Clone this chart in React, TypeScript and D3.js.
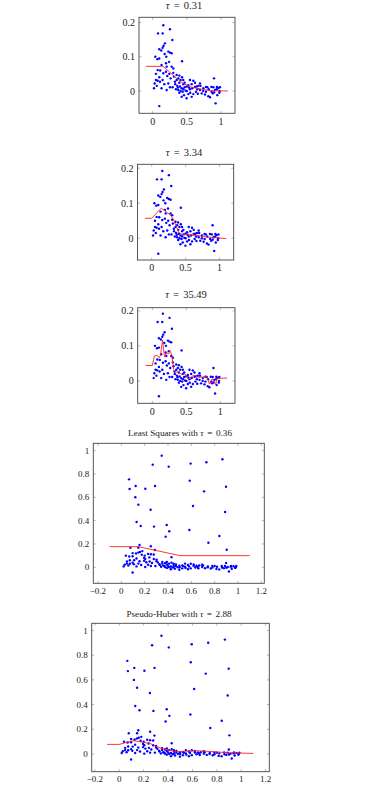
import * as d3 from 'd3';

type Pt = [number, number];

// noisy samples (same set in the three top plots)
const samplePoints: Pt[] = [
  [0.156, 0.192], [0.078, 0.168], [0.146, 0.168], [0.253, 0.18], [0.288, 0.149],
  [0.18, 0.139], [0.16, 0.132], [0.097, 0.122], [0.126, 0.118], [0.146, 0.126],
  [0.229, 0.115], [0.253, 0.112], [0.278, 0.11], [0.039, 0.1], [0.068, 0.093],
  [0.097, 0.095], [0.175, 0.108], [0.43, 0.087], [0.195, 0.081], [0.13, 0.076],
  [0.048, 0.05], [0.073, 0.061], [0.097, 0.04], [0.073, 0.03], [0.029, 0.022],
  [0.02, 0.008], [0.107, 0.027], [0.146, 0.032], [0.156, 0.052], [0.195, 0.056],
  [0.214, 0.044], [0.243, 0.05], [0.263, 0.037], [0.302, 0.053], [0.312, 0.042],
  [0.229, 0.022], [0.253, 0.011], [0.205, 0.003], [0.097, -0.044], [0.326, 0.027],
  [0.351, 0.032], [0.375, 0.037], [0.39, 0.024], [0.409, 0.032], [0.36, 0.015],
  [0.341, 0.005], [0.39, -0.005], [0.424, 0.008], [0.448, 0.02], [0.468, 0.011],
  [0.483, 0.001], [0.424, -0.017], [0.522, -0.009], [0.497, -0.021], [0.546, 0.005],
  [0.571, 0.02], [0.595, 0.03], [0.62, 0.024], [0.644, 0.013], [0.668, 0.015],
  [0.634, -0.002], [0.693, 0.003], [0.595, -0.009], [0.571, -0.017], [0.717, -0.007],
  [0.742, 0.008], [0.781, -0.002], [0.8, 0.011], [0.839, -0.018], [0.878, -0.007],
  [0.888, 0.011], [0.912, 0.003], [0.898, 0.037], [0.937, 0.005], [0.961, 0.009],
  [0.985, 0.011], [0.922, -0.036], [0.946, -0.012], [0.976, -0.005], [0.693, 0.022],
  [0.522, 0.017], [0.278, 0.071], [0.302, 0.066], [0.205, 0.071], [0.351, 0.047],
  [0.448, 0.032], [0.468, 0.024], [0.048, 0.032], [0.13, 0.008], [0.292, 0.011],
  [0.546, 0.032], [0.654, 0.005], [0.766, -0.01], [0.863, -0.002], [0.815, -0.015],
  [0.497, 0.013], [0.4, 0.013], [0.375, 0.003], [0.439, -0.002], [0.458, -0.012],
  [0.33, 0.02], [0.37, 0.01], [0.41, 0.0], [0.45, 0.005], [0.5, 0.0],
  [0.53, 0.01], [0.58, 0.008], [0.62, 0.012], [0.66, -0.008], [0.7, 0.015],
  [0.74, 0.0], [0.78, 0.012], [0.82, 0.005], [0.86, 0.012], [0.9, -0.004],
  [0.94, 0.012], [0.98, 0.0], [0.43, 0.04], [0.39, 0.045], [0.55, -0.005],
  [0.24, 0.085], [0.2, 0.1], [0.11, 0.06], [0.06, 0.015], [0.17, 0.02],
];

// extra outliers used in the two bottom plots
const outlierPoints: Pt[] = [
  [0.346, 0.957], [0.269, 0.88], [0.406, 0.863], [0.594, 0.889], [0.729, 0.9],
  [0.866, 0.926], [0.066, 0.754], [0.586, 0.743], [0.123, 0.697], [0.071, 0.671],
  [0.206, 0.674], [0.289, 0.697], [0.709, 0.651], [0.897, 0.691], [0.12, 0.6],
  [0.146, 0.537], [0.614, 0.526], [0.251, 0.494], [0.889, 0.474], [0.131, 0.389],
  [0.166, 0.354], [0.28, 0.349], [0.389, 0.363], [0.411, 0.309], [0.583, 0.32],
  [0.38, 0.263], [0.84, 0.269], [0.746, 0.211], [0.903, 0.151],
];

// fitted curves
const fitTau031: Pt[] = [
  [-0.1, 0.072], [0.15, 0.072], [0.25, 0.055], [0.35, 0.037], [0.45, 0.022],
  [0.55, 0.012], [0.65, 0.008], [0.75, 0.004], [0.85, 0.001], [1.1, 0.0],
];
const fitTau334: Pt[] = [
  [-0.1, 0.057], [0.0, 0.057], [0.14, 0.086], [0.27, 0.067], [0.32, 0.055],
  [0.4, 0.016], [0.45, 0.011], [0.67, 0.008], [0.84, 0.003], [1.1, -0.001],
];
const fitTau3549: Pt[] = [
  [-0.1, 0.044], [0.0, 0.044], [0.03, 0.071], [0.07, 0.073], [0.1, 0.066],
  [0.12, 0.073], [0.15, 0.116], [0.18, 0.068], [0.21, 0.081], [0.24, 0.077],
  [0.26, 0.087], [0.29, 0.07], [0.31, 0.033], [0.34, 0.025], [0.38, 0.026],
  [0.43, 0.018], [0.48, 0.02], [0.53, 0.004], [0.57, 0.011], [0.61, 0.016],
  [0.68, 0.01], [0.73, 0.011], [0.8, 0.013], [0.84, -0.009], [0.88, 0.006],
  [0.93, -0.011], [0.95, 0.007], [1.1, 0.008],
];
const fitLeastSquares: Pt[] = [
  [-0.1, 0.177], [0.146, 0.177], [0.503, 0.1], [1.1, 0.1],
];
const fitPseudoHuber: Pt[] = [
  [-0.1, 0.078], [0.0, 0.078], [0.115, 0.108], [0.25, 0.086], [0.35, 0.043],
  [0.47, 0.019], [0.63, 0.027], [0.77, 0.019], [0.88, 0.011], [1.1, 0.005],
];

const smallXTicks = [0, 0.5, 1];
const smallYTicks = [0, 0.1, 0.2];
const bigXTicks = [-0.2, 0, 0.2, 0.4, 0.6, 0.8, 1, 1.2];
const bigYTicks = [0, 0.2, 0.4, 0.6, 0.8, 1];

const FONT = '"Liberation Serif", "DejaVu Serif", serif';
const fmt = d3.format('~g');

interface PanelProps {
  box: [number, number, number, number];
  xDomain: [number, number];
  yDomain: [number, number];
  label: string;
  tau: string;
  titleX: number;
  titleY: number;
  titleSize: number;
  tickSize: number;
  points: Pt[];
  fit: Pt[];
  xTicks: number[];
  yTicks: number[];
}

function Panel(p: PanelProps) {
  const [x0, y0, x1, y1] = p.box;
  const x = d3.scaleLinear().domain(p.xDomain).range([x0, x1]);
  const y = d3.scaleLinear().domain(p.yDomain).range([y1, y0]);
  const line = d3.line<Pt>().x(d => x(d[0])).y(d => y(d[1]));
  const tl = 2.5;
  const gap = p.titleSize * 0.14;

  return (
    <g>
      <text x={p.titleX} y={p.titleY} textAnchor="middle" fontFamily={FONT} fontSize={p.titleSize} fill="#222">
        {p.label}
        <tspan fontStyle="italic">τ</tspan>
        <tspan dx={gap}> = </tspan>
        <tspan dx={gap}>{p.tau}</tspan>
      </text>

      {p.points.map((d, i) => (
        <circle key={i} cx={x(d[0])} cy={y(d[1])} r={1.2} fill="#0000ff" />
      ))}

      <path d={line(p.fit) ?? ''} fill="none" stroke="#ff2020" strokeWidth={0.9} />

      {p.xTicks.map(t => (
        <g key={'x' + t}>
          <line x1={x(t)} x2={x(t)} y1={y1} y2={y1 - tl} stroke="#888" strokeWidth={0.6} />
          <line x1={x(t)} x2={x(t)} y1={y0} y2={y0 + tl} stroke="#888" strokeWidth={0.6} />
          <text x={x(t)} y={y1 + p.tickSize + 1.3} textAnchor="middle" fontFamily={FONT} fontSize={p.tickSize} fill="#222">
            {fmt(t)}
          </text>
        </g>
      ))}
      {p.yTicks.map(t => (
        <g key={'y' + t}>
          <line x1={x0} x2={x0 + tl} y1={y(t)} y2={y(t)} stroke="#888" strokeWidth={0.6} />
          <line x1={x1} x2={x1 - tl} y1={y(t)} y2={y(t)} stroke="#888" strokeWidth={0.6} />
          <text x={x0 - 4} y={y(t)} dy="0.35em" textAnchor="end" fontFamily={FONT} fontSize={p.tickSize} fill="#222">
            {fmt(t)}
          </text>
        </g>
      ))}

      <rect x={x0} y={y0} width={x1 - x0} height={y1 - y0} fill="none" stroke="#444" strokeWidth={0.9} />
    </g>
  );
}

export default function App() {
  const allPoints = [...samplePoints, ...outlierPoints];
  return (
    <svg width={365} height={786} style={{ position: 'absolute', left: 0, top: 0, background: '#fff' }}>
      <Panel box={[139, 17.3, 235, 113.3]} xDomain={[-0.2, 1.205]} yDomain={[-0.065, 0.215]}
        label="" tau="0.31" titleX={184} titleY={8.5} titleSize={10.5} tickSize={10}
        points={samplePoints} fit={fitTau031} xTicks={smallXTicks} yTicks={smallYTicks} />
      <Panel box={[137.5, 164.3, 233.7, 260]} xDomain={[-0.21, 1.21]} yDomain={[-0.062, 0.211]}
        label="" tau="3.34" titleX={184} titleY={156} titleSize={10.5} tickSize={10}
        points={samplePoints} fit={fitTau334} xTicks={smallXTicks} yTicks={smallYTicks} />
      <Panel box={[137.7, 307.7, 235, 403.3]} xDomain={[-0.215, 1.215]} yDomain={[-0.064, 0.209]}
        label="" tau="35.49" titleX={186} titleY={297.5} titleSize={10.5} tickSize={10}
        points={samplePoints} fit={fitTau3549} xTicks={smallXTicks} yTicks={smallYTicks} />
      <Panel box={[93.3, 443.3, 264.3, 583.3]} xDomain={[-0.24, 1.225]} yDomain={[-0.137, 1.063]}
        label="Least Squares with " tau="0.36" titleX={180} titleY={436} titleSize={9.2} tickSize={9}
        points={allPoints} fit={fitLeastSquares} xTicks={bigXTicks} yTicks={bigYTicks} />
      <Panel box={[91.7, 623.3, 269.3, 771.7]} xDomain={[-0.226, 1.23]} yDomain={[-0.143, 1.058]}
        label="Pseudo-Huber with " tau="2.88" titleX={179} titleY={616.7} titleSize={9.2} tickSize={9}
        points={allPoints} fit={fitPseudoHuber} xTicks={bigXTicks} yTicks={bigYTicks} />
    </svg>
  );
}
